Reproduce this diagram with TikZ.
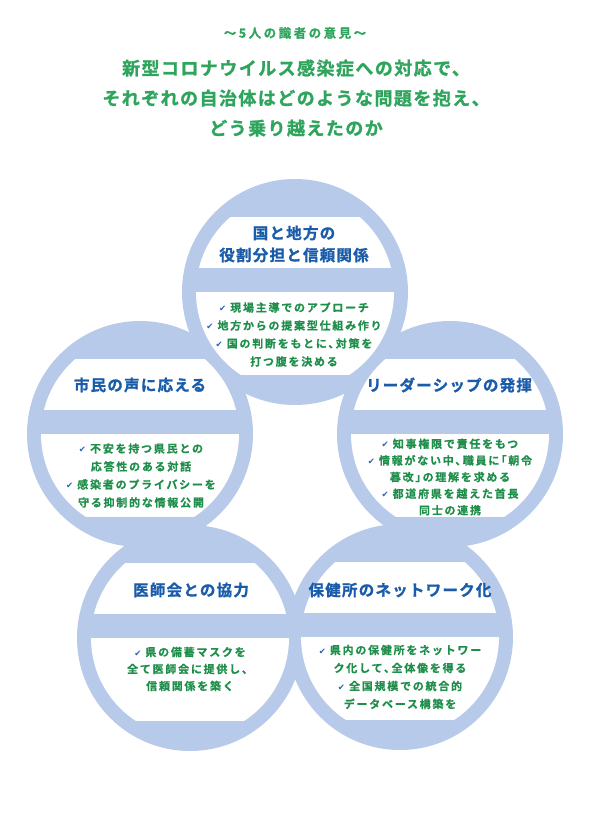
\documentclass[tikz,border=0pt]{standalone}
\usepackage{fontspec}
\usetikzlibrary{calc}
\newfontfamily\jpHead{Noto Sans CJK JP Bold}[LetterSpace=8,FakeBold=1.2]
\newfontfamily\jpSub{Noto Sans CJK JP Bold}[LetterSpace=20,FakeBold=0.8]
\newfontfamily\jpTitle{Noto Sans CJK JP Bold}[LetterSpace=8,FakeBold=1.2]
\newfontfamily\jpBody{Noto Sans CJK JP Bold}[LetterSpace=16,FakeBold=0.6]
\newfontfamily\djv{DejaVu Sans}
\definecolor{ringblue}{HTML}{B8CAE9}
\definecolor{ttlblue}{HTML}{1A5CAA}
\definecolor{bodygreen}{HTML}{1E8E4A}
\definecolor{headgreen}{HTML}{2FA45C}
\definecolor{chkblue}{HTML}{2E62B4}
\newcommand\chk{{\djv\fontsize{8.5}{8.5}\selectfont\color{chkblue}✔}\hspace{4pt}}
\tikzset{
  subhead/.style={font=\jpSub\fontsize{12.5}{14}\selectfont, text=headgreen, inner sep=0pt},
  mainhead/.style={font=\jpHead\fontsize{18}{30}\selectfont, text=headgreen, align=center, inner sep=0pt},
  ctitle/.style={font=\jpTitle\fontsize{15.5}{22}\selectfont, text=ttlblue, align=center, inner sep=0pt},
  cbody/.style={font=\jpBody\fontsize{11}{18}\selectfont, text=bodygreen, align=center, inner sep=0pt},
  cbodytight/.style={font=\jpBody\fontsize{11}{16.6}\selectfont, text=bodygreen, align=center, inner sep=0pt},
  ring/.style={fill=ringblue}
}
\begin{document}
\begin{tikzpicture}[x=1pt,y=-1pt]
\useasboundingbox (0,0) rectangle (589,816);
\coordinate (cT) at (295,292);
\coordinate (cL) at (140,434);
\coordinate (cR) at (450,434);
\coordinate (cBL) at (190,638);
\coordinate (cBR) at (400,637);
\foreach \c in {cT,cL,cR,cBL,cBR}{
  \fill[ring] (\c) circle (113pt);
}
\foreach \c in {cT,cL,cR,cBL,cBR}{
  \begin{scope}
    \clip (\c) circle (99pt);
    \fill[white] ($(\c)+(-110,-75)$) rectangle ($(\c)+(110,-24)$);
    \fill[white] ($(\c)+(-110,0)$) rectangle ($(\c)+(110,83)$);
  \end{scope}
}
\node[subhead] (sub) at (295,33) {〜5人の識者の意見〜};
\node[mainhead] (main) at (296,98) {新型コロナウイルス感染症への対応で、\\それぞれの自治体はどのような問題を抱え、\\どう乗り越えたのか};

\node[ctitle] (tT) at (294,244) {国と地方の\\役割分担と信頼関係};
\node[cbody] (bT) at (294,334.5) {\chk 現場主導でのアプローチ\\\chk 地方からの提案型仕組み作り\\\chk 国の判断をもとに､対策を\\打つ腹を決める};

\node[ctitle] (tL) at (140,385) {市民の声に応える};
\node[cbody] (bL) at (141,475.5) {\chk 不安を持つ県民との\\応答性のある対話\\\chk 感染者のプライバシーを\\守る抑制的な情報公開};

\node[ctitle] (tR) at (449,385) {リーダーシップの発揮};
\node[cbodytight] (bR) at (450,477) {\chk 知事権限で責任をもつ\\\chk 情報がない中､職員に｢朝令\\暮改｣の理解を求める\\\chk 都道府県を越えた首長\\同士の連携};

\node[ctitle] (tBL) at (191,590) {医師会との協力};
\node[cbody,font=\jpBody\fontsize{11}{17}\selectfont] (bBL) at (190,669) {\chk 県の備蓄マスクを\\全て医師会に提供し、\\信頼関係を築く};

\node[ctitle] (tBR) at (400,590) {保健所のネットワーク化};
\node[cbody] (bBR) at (400,677) {\chk 県内の保健所をネットワー\\ク化して､全体像を得る\\\chk 全国規模での統合的\\データベース構築を};
\end{tikzpicture}
\end{document}
